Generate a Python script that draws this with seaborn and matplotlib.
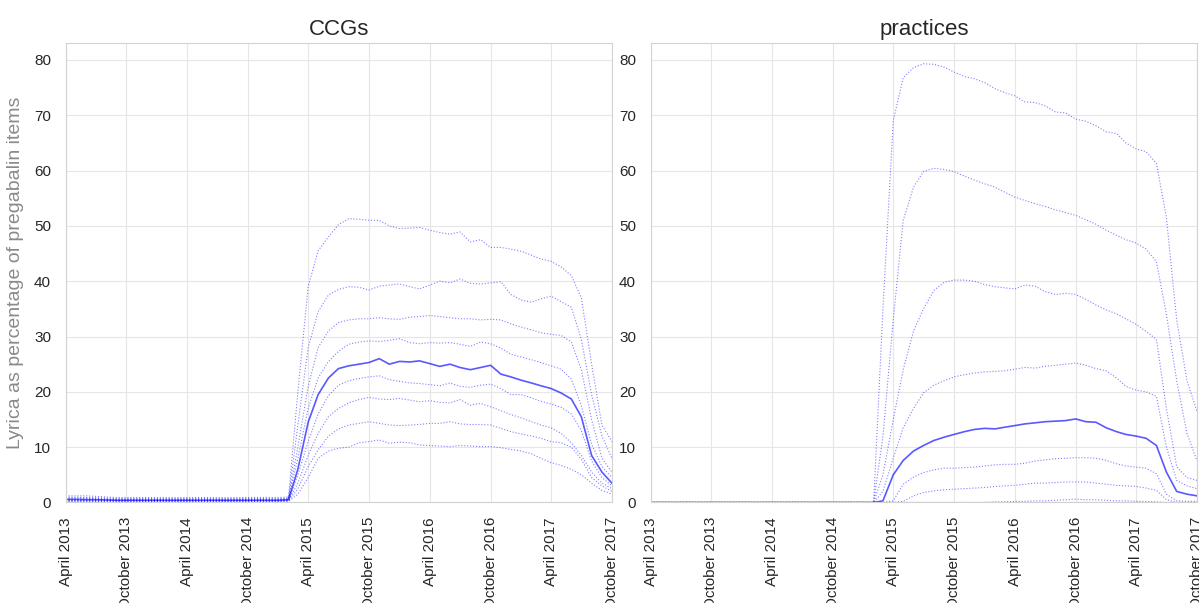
import pandas as pd
import matplotlib
matplotlib.use('Agg')
import matplotlib.pyplot as plt
import matplotlib.dates as mdates
import seaborn as sns

# Monthly data, April 2013 - October 2017
months = pd.date_range('2013-04-01', '2017-10-01', freq='MS')
deciles = [10, 20, 30, 40, 50, 60, 70, 80, 90]

# CCG deciles (Lyrica as % of pregabalin items)
ccg_p10 = [0.15, 0.15, 0.15, 0.15, 0.1, 0.1, 0.1, 0.1, 0.1, 0.1, 0.1, 0.1, 0.1, 0.1, 0.1, 0.1, 0.1, 0.1, 0.1, 0.1, 0.1, 0.1,
           0.2, 1.5, 4.5, 8.0, 9.3, 9.8, 10.0, 10.8, 11.0, 11.3, 10.7, 10.9, 10.8, 10.4, 10.3, 10.2, 10.1, 10.3, 10.2,
           10.1, 10.1, 9.9, 9.6, 9.3, 8.8, 8.0, 7.2, 6.7, 6.0, 5.0, 3.5, 2.2, 1.5]
ccg_p20 = [0.25, 0.25, 0.25, 0.25, 0.2, 0.2, 0.2, 0.2, 0.2, 0.2, 0.2, 0.2, 0.2, 0.2, 0.2, 0.2, 0.2, 0.2, 0.2, 0.2, 0.2, 0.2,
           0.3, 2.5, 6.5, 9.5, 12.0, 13.3, 14.0, 14.3, 14.6, 14.3, 14.0, 13.9, 14.0, 14.1, 14.3, 14.3, 14.6, 14.2, 14.1,
           14.1, 14.0, 13.4, 12.8, 12.4, 12.0, 11.6, 11.0, 10.8, 10.0, 7.8, 4.5, 3.0, 2.0]
ccg_p30 = [0.35, 0.35, 0.35, 0.3, 0.3, 0.3, 0.3, 0.3, 0.3, 0.3, 0.3, 0.3, 0.3, 0.3, 0.3, 0.3, 0.3, 0.3, 0.3, 0.3, 0.3, 0.3,
           0.4, 3.5, 8.5, 12.5, 15.5, 17.0, 18.0, 18.6, 19.0, 18.7, 18.6, 18.8, 18.5, 18.2, 18.4, 18.1, 18.0, 18.6, 17.6,
           17.9, 17.3, 16.6, 15.9, 15.3, 14.6, 14.0, 13.5, 12.5, 10.8, 8.5, 5.5, 3.5, 2.5]
ccg_p40 = [0.45, 0.45, 0.45, 0.4, 0.4, 0.35, 0.35, 0.35, 0.35, 0.35, 0.35, 0.35, 0.35, 0.35, 0.35, 0.35, 0.35, 0.35, 0.35, 0.35, 0.35, 0.35,
           0.45, 5.0, 11.0, 16.0, 19.3, 21.2, 22.0, 22.4, 22.7, 22.9, 22.2, 21.9, 21.6, 21.5, 21.3, 21.1, 21.6, 21.0, 20.8,
           21.2, 21.4, 20.6, 19.5, 19.5, 18.9, 18.3, 17.8, 17.2, 16.0, 13.0, 7.5, 4.5, 3.0]
ccg_p50 = [0.55, 0.55, 0.5, 0.5, 0.45, 0.4, 0.4, 0.4, 0.4, 0.4, 0.4, 0.4, 0.4, 0.4, 0.4, 0.4, 0.4, 0.4, 0.4, 0.4, 0.4, 0.4,
           0.5, 6.0, 14.5, 19.5, 22.5, 24.2, 24.7, 25.0, 25.3, 26.0, 25.0, 25.5, 25.4, 25.6, 25.1, 24.6, 25.0, 24.4, 24.0,
           24.4, 24.8, 23.2, 22.7, 22.1, 21.6, 21.1, 20.6, 19.8, 18.7, 15.5, 8.5, 5.5, 3.5]
ccg_p60 = [0.65, 0.65, 0.6, 0.6, 0.55, 0.5, 0.5, 0.5, 0.5, 0.5, 0.5, 0.5, 0.5, 0.5, 0.5, 0.5, 0.5, 0.5, 0.5, 0.5, 0.5, 0.5,
           0.6, 8.0, 17.0, 22.5, 25.5, 27.3, 28.6, 29.0, 29.2, 29.1, 29.3, 29.6, 28.9, 28.7, 28.9, 28.8, 28.9, 28.6, 28.2,
           29.0, 28.7, 27.9, 26.8, 26.3, 25.8, 25.3, 24.7, 24.1, 22.3, 17.5, 10.5, 6.5, 4.5]
ccg_p70 = [0.8, 0.8, 0.75, 0.7, 0.65, 0.6, 0.6, 0.6, 0.6, 0.6, 0.6, 0.6, 0.6, 0.6, 0.6, 0.6, 0.6, 0.6, 0.6, 0.6, 0.6, 0.6,
           0.7, 10.0, 21.0, 28.0, 31.0, 32.5, 33.0, 33.2, 33.2, 33.4, 33.2, 33.1, 33.5, 33.6, 33.8, 33.6, 33.4, 33.2, 33.2,
           33.0, 33.1, 33.0, 32.3, 31.7, 31.2, 30.7, 30.4, 30.2, 29.0, 24.0, 15.0, 8.0, 5.5]
ccg_p80 = [0.95, 0.95, 0.9, 0.85, 0.8, 0.7, 0.7, 0.7, 0.7, 0.7, 0.7, 0.7, 0.7, 0.7, 0.7, 0.7, 0.7, 0.7, 0.7, 0.7, 0.7, 0.7,
           0.8, 14.0, 28.0, 34.5, 37.5, 38.5, 39.0, 38.9, 38.4, 39.1, 39.3, 39.5, 39.0, 38.6, 39.3, 40.0, 39.7, 40.4, 39.6,
           39.5, 39.7, 39.9, 37.6, 36.6, 36.2, 36.8, 37.3, 36.3, 35.3, 29.5, 19.5, 12.0, 8.0]
ccg_p90 = [1.2, 1.2, 1.2, 1.1, 1.0, 0.9, 0.9, 0.9, 0.9, 0.9, 0.9, 0.9, 0.9, 0.9, 0.9, 0.9, 0.9, 0.9, 0.9, 0.9, 0.9, 0.9,
           1.0, 20.0, 39.0, 45.5, 48.0, 50.2, 51.3, 51.2, 51.0, 51.0, 50.0, 49.5, 49.6, 49.7, 49.2, 48.8, 48.5, 48.9, 47.1,
           47.5, 46.1, 46.1, 45.8, 45.4, 44.7, 44.0, 43.6, 42.6, 41.0, 37.0, 25.0, 14.0, 11.0]

# Practice deciles
prac_p10 = [0, 0, 0, 0, 0, 0, 0, 0, 0, 0, 0, 0, 0, 0, 0, 0, 0, 0, 0, 0, 0, 0, 0,
            0, 0, 0, 0, 0, 0, 0, 0, 0, 0, 0, 0, 0, 0, 0, 0, 0, 0, 0, 0, 0, 0, 0, 0, 0, 0, 0, 0, 0, 0, 0, 0]
prac_p20 = [0, 0, 0, 0, 0, 0, 0, 0, 0, 0, 0, 0, 0, 0, 0, 0, 0, 0, 0, 0, 0, 0, 0,
            0, 0, 0, 0, 0, 0, 0, 0, 0, 0, 0, 0.1, 0.1, 0.2, 0.2, 0.3, 0.3, 0.4, 0.5, 0.6, 0.5, 0.5, 0.4, 0.3, 0.3,
            0.2, 0.2, 0.1, 0, 0, 0, 0]
prac_p30 = [0, 0, 0, 0, 0, 0, 0, 0, 0, 0, 0, 0, 0, 0, 0, 0, 0, 0, 0, 0, 0, 0, 0,
            0.0, 0.0, 0.2, 1.2, 1.8, 2.1, 2.3, 2.4, 2.5, 2.6, 2.7, 2.9, 3.0, 3.1, 3.3, 3.5, 3.5, 3.6, 3.7, 3.7, 3.7,
            3.5, 3.3, 3.1, 3.0, 2.9, 2.6, 2.2, 0.5, 0.0, 0.0, 0.0]
prac_p40 = [0, 0, 0, 0, 0, 0, 0, 0, 0, 0, 0, 0, 0, 0, 0, 0, 0, 0, 0, 0, 0, 0, 0,
            0.0, 0.3, 3.3, 4.6, 5.4, 5.9, 6.2, 6.2, 6.3, 6.4, 6.6, 6.8, 6.9, 6.9, 7.1, 7.5, 7.7, 7.9, 8.0, 8.1, 8.1,
            8.0, 7.6, 7.0, 6.6, 6.4, 6.2, 5.2, 1.5, 0.3, 0.2, 0.2]
prac_p50 = [0, 0, 0, 0, 0, 0, 0, 0, 0, 0, 0, 0, 0, 0, 0, 0, 0, 0, 0, 0, 0, 0, 0,
            0.3, 5.0, 7.6, 9.3, 10.3, 11.2, 11.8, 12.3, 12.8, 13.2, 13.4, 13.3, 13.6, 13.9, 14.2, 14.4, 14.6, 14.7,
            14.8, 15.1, 14.6, 14.5, 13.5, 12.8, 12.3, 12.0, 11.6, 10.3, 5.5, 2.0, 1.5, 1.2]
prac_p60 = [0, 0, 0, 0, 0, 0, 0, 0, 0, 0, 0, 0, 0, 0, 0, 0, 0, 0, 0, 0, 0, 0, 0,
            2.0, 8.0, 13.5, 17.0, 19.8, 21.2, 22.0, 22.7, 23.1, 23.4, 23.6, 23.7, 23.8, 24.1, 24.4, 24.3, 24.6, 24.8,
            25.0, 25.2, 24.8, 24.2, 23.8, 22.5, 21.0, 20.3, 20.0, 19.2, 10.0, 4.0, 3.0, 2.5]
prac_p70 = [0, 0, 0, 0, 0, 0, 0, 0, 0, 0, 0, 0, 0, 0, 0, 0, 0, 0, 0, 0, 0, 0, 0,
            5.0, 15.0, 24.0, 31.0, 35.0, 38.3, 39.8, 40.2, 40.2, 40.0, 39.4, 39.0, 38.8, 38.6, 39.3, 39.1, 38.1, 37.6,
            37.8, 37.6, 36.7, 35.7, 34.8, 34.1, 33.2, 32.2, 30.9, 29.5, 17.0, 6.5, 4.5, 4.0]
prac_p80 = [0, 0, 0, 0, 0, 0, 0, 0, 0, 0, 0, 0, 0, 0, 0, 0, 0, 0, 0, 0, 0, 0, 0,
            12.0, 33.0, 51.0, 57.0, 59.8, 60.4, 60.2, 59.8, 59.0, 58.3, 57.6, 57.0, 56.1, 55.2, 54.6, 54.0, 53.5, 52.9,
            52.4, 51.9, 51.1, 50.3, 49.2, 48.3, 47.5, 46.9, 45.8, 43.5, 34.0, 22.0, 12.5, 7.5]
prac_p90 = [0, 0, 0, 0, 0, 0, 0, 0, 0, 0, 0, 0, 0, 0, 0, 0, 0, 0, 0, 0, 0, 0, 0,
            35.0, 69.0, 76.8, 78.6, 79.3, 79.2, 78.7, 77.8, 77.0, 76.6, 75.9, 74.8, 74.1, 73.5, 72.4, 72.3, 71.7, 70.6,
            70.4, 69.3, 68.9, 68.1, 67.0, 66.7, 65.0, 63.9, 63.4, 61.3, 51.5, 33.0, 22.0, 16.5]

ccg_lines = [ccg_p10, ccg_p20, ccg_p30, ccg_p40, ccg_p50, ccg_p60, ccg_p70, ccg_p80, ccg_p90]
prac_lines = [prac_p10, prac_p20, prac_p30, prac_p40, prac_p50, prac_p60, prac_p70, prac_p80, prac_p90]

sns.set_style('whitegrid', {'grid.color': '#e6e6e6', 'axes.edgecolor': '#d2d2d2'})
plt.rcParams['font.family'] = ['Liberation Sans', 'DejaVu Sans']
plt.rcParams.update({
    'xtick.labelsize': 11,
    'ytick.labelsize': 11,
    'xtick.major.pad': 7,
    'ytick.major.pad': 7,
})

fig, (ax1, ax2) = plt.subplots(1, 2, figsize=(11.99, 6.03), dpi=100)
fig.subplots_adjust(left=0.0547, right=0.9983, top=0.9282, bottom=0.1667, wspace=0.071)

for ax, title, lines in [(ax1, 'CCGs', ccg_lines), (ax2, 'practices', prac_lines)]:
    for pct, vals in zip(deciles, lines):
        if pct == 50:
            sns.lineplot(x=months, y=vals, ax=ax, color='blue', linewidth=1.2, alpha=0.65)
        else:
            sns.lineplot(x=months, y=vals, ax=ax, color='blue', linewidth=0.8,
                         linestyle=':', alpha=0.5)
    ax.set_title(title, fontsize=16, color='.15')
    ax.set_xlim(months[0], months[-1])
    ax.set_ylim(0, 83)
    ax.set_xlabel('')
    ax.xaxis.set_major_locator(mdates.MonthLocator(bymonth=[4, 10]))
    ax.xaxis.set_major_formatter(mdates.DateFormatter('%B %Y'))
    plt.setp(ax.get_xticklabels(), rotation=90)

ax1.set_ylabel('Lyrica as percentage of pregabalin items', fontsize=14, color='#8a8a8a', labelpad=7)
ax2.set_ylabel('')

fig.savefig('out.png', dpi=100)
